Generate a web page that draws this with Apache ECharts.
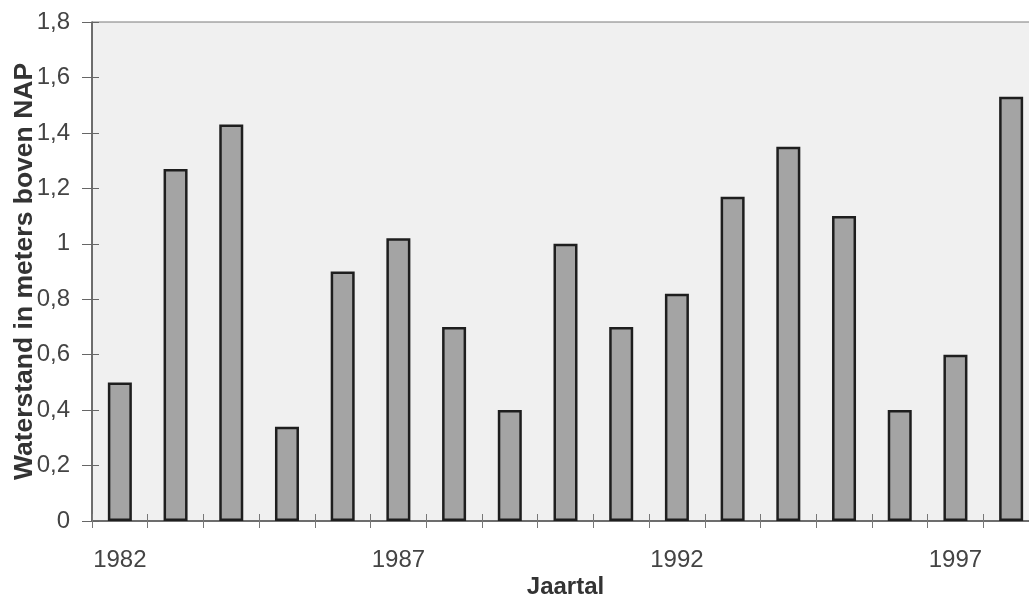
<!DOCTYPE html>
<html>
<head>
<meta charset="utf-8">
<script src="https://cdn.jsdelivr.net/npm/echarts@6/dist/echarts.min.js"></script>
<style>
  html, body { margin: 0; padding: 0; background: #ffffff; }
  #chart { width: 1029px; height: 595px; }
</style>
</head>
<body>
<div id="chart"></div>
<script>
// Yearly water level (m above NAP)
const years = ['1982','1983','1984','1985','1986','1987','1988','1989','1990',
               '1991','1992','1993','1994','1995','1996','1997','1998'];
const levels = [0.50, 1.27, 1.43, 0.34, 0.90, 1.02, 0.70, 0.40, 1.00,
                0.70, 0.82, 1.17, 1.35, 1.10, 0.40, 0.60, 1.53];
const yTitle = 'Waterstand in meters boven NAP';
const xTitle = 'Jaartal';

const fmtComma = v => String(Math.round(v * 10) / 10).replace('.', ',');
const font = '"Liberation Sans", Arial, sans-serif';

const chart = echarts.init(document.getElementById('chart'));
chart.setOption({
  animation: false,
  grid: {
    left: 92, right: -10, top: 22, bottom: 74,
    containLabel: false,
    outerBoundsMode: 'none',
    show: true,
    backgroundColor: '#f0f0f0',
    borderColor: '#7a7a7a',
    borderWidth: 1
  },
  xAxis: [{
    type: 'category',
    data: years,
    axisLine: { lineStyle: { color: '#555', width: 1.5 } },
    axisTick: { show: true, interval: 0, length: 7, lineStyle: { color: '#777' } },
    axisLabel: {
      interval: 4, margin: 27, fontSize: 24, color: '#444', fontFamily: font
    },
    name: xTitle,
    nameLocation: 'middle',
    nameGap: 54,
    nameMoveOverlap: false,
    nameTextStyle: {
      fontSize: 24, fontWeight: 'bold', color: '#333', fontFamily: font
    }
  }, {
    // inner half of the crossing tick marks
    type: 'category',
    data: years,
    position: 'bottom',
    axisLine: { show: false },
    axisTick: { show: true, inside: true, interval: 0, length: 7, lineStyle: { color: '#777' } },
    axisLabel: { show: false }
  }],
  yAxis: [{
    type: 'value',
    min: 0, max: 1.8, interval: 0.2,
    splitLine: { show: false },
    axisLine: { show: true, lineStyle: { color: '#555', width: 1.5 } },
    axisTick: { show: true, length: 10, lineStyle: { color: '#666' } },
    axisLabel: {
      margin: 22, fontSize: 24, color: '#444', fontFamily: font,
      formatter: fmtComma
    },
    name: yTitle,
    nameLocation: 'middle',
    nameGap: 54,
    nameMoveOverlap: false,
    nameTextStyle: { fontSize: 26.5, fontWeight: 'bold', color: '#333', fontFamily: font }
  }, {
    type: 'value',
    position: 'left',
    min: 0, max: 1.8, interval: 0.2,
    splitLine: { show: false },
    axisLine: { show: false },
    axisTick: { show: true, inside: true, length: 7, lineStyle: { color: '#666' } },
    axisLabel: { show: false }
  }],
  series: [{
    type: 'bar',
    data: levels,
    barWidth: 24,
    itemStyle: {
      color: '#a4a4a4',
      borderColor: '#1e1e1e',
      borderWidth: 2.5
    }
  }]
});
</script>
</body>
</html>
